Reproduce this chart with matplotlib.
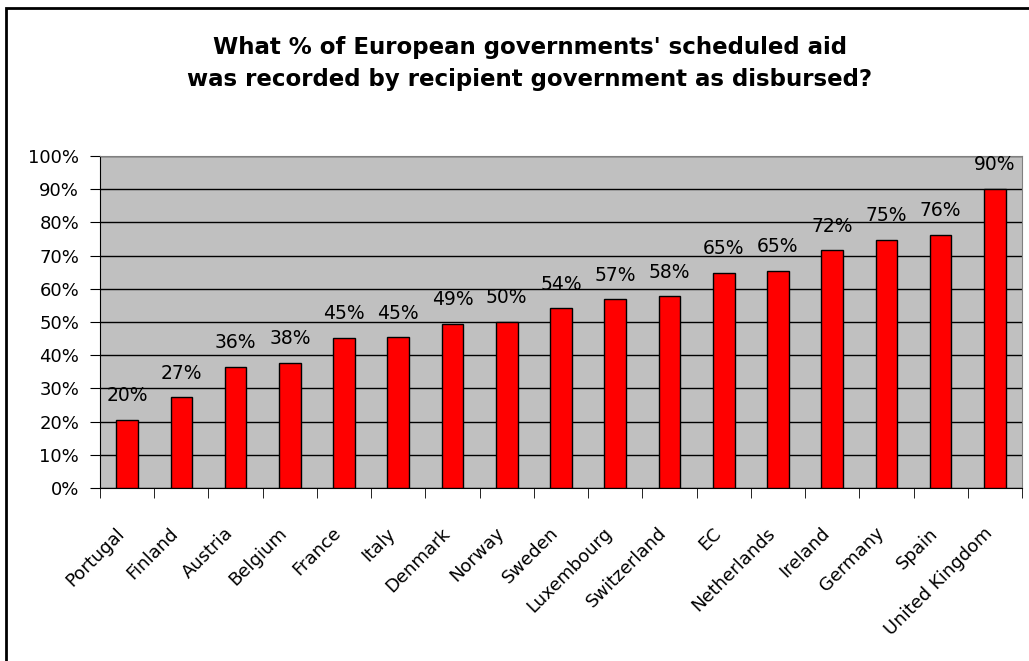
import numpy as np
import matplotlib
matplotlib.use("Agg")
import matplotlib.pyplot as plt
from matplotlib.patches import Rectangle

plt.rcParams['font.family'] = ['DejaVu Sans']

## Data

countries = ["Portugal", "Finland", "Austria", "Belgium", "France", "Italy",
             "Denmark", "Norway", "Sweden", "Luxembourg", "Switzerland", "EC",
             "Netherlands", "Ireland", "Germany", "Spain", "United Kingdom"]
disbursed = [20.5, 27.3, 36.5, 37.6, 45.3, 45.4, 49.4, 50.0, 54.1, 56.8,
             57.7, 64.9, 65.4, 71.6, 74.7, 76.2, 90.0]   # percent
ytick_vals = list(range(0, 101, 10))

title = ("What % of European governments' scheduled aid\n"
         "was recorded by recipient government as disbursed?")

## Figure

W, H = 1029, 661
fig = plt.figure(figsize=(W / 100, H / 100), dpi=100)
ax = fig.add_axes([100 / W, 1 - 488 / H, 922 / W, 332 / H])

x = np.arange(len(countries))
ax.bar(x, disbursed, width=0.4, color="#ff0000", edgecolor="black",
       linewidth=1, zorder=3)

for xi, v in zip(x, disbursed):
    ax.annotate(f"{round(v)}%", (xi, v), xytext=(0, 13.5),
                textcoords="offset points", ha="center", va="baseline",
                fontsize=13.5, zorder=4)

ax.set_facecolor("#c0c0c0")
ax.set_xlim(-0.5, len(countries) - 0.5)
ax.set_ylim(0, 100)

ax.set_yticks(ytick_vals)
ax.set_yticklabels([f"{t}%" for t in ytick_vals], fontsize=13)
ax.yaxis.grid(True, color="black", linewidth=1, zorder=1)
ax.set_axisbelow(True)

# rotated names anchored a little left of each bar centre (no tick mark),
# tick marks drawn between categories
ax.set_xticks(x - 0.22)
ax.set_xticklabels(countries, rotation=45, ha="right", va="top",
                   rotation_mode="anchor", fontsize=13)
ax.set_xticks(np.arange(len(countries) + 1) - 0.5, minor=True)
ax.tick_params(axis="x", which="major", length=0, pad=26)
ax.tick_params(axis="x", which="minor", length=7, direction="out", color="black")
ax.tick_params(axis="y", length=7, direction="out", color="black", pad=8)

for s in ("top", "right"):
    ax.spines[s].set_color("#808080")
for s in ("left", "bottom"):
    ax.spines[s].set_color("black")

fig.text(530 / W, 1 - 63.5 / H, title, ha="center", va="center",
         fontsize=16.5, fontweight="bold", linespacing=1.5)

# outer chart border
fig.patches.append(Rectangle((6 / W, -0.02), 1.04, 1 - 8 / H + 0.02,
                             transform=fig.transFigure, fill=False,
                             edgecolor="black", linewidth=2, clip_on=False))

fig.savefig("out.png", dpi=100)
